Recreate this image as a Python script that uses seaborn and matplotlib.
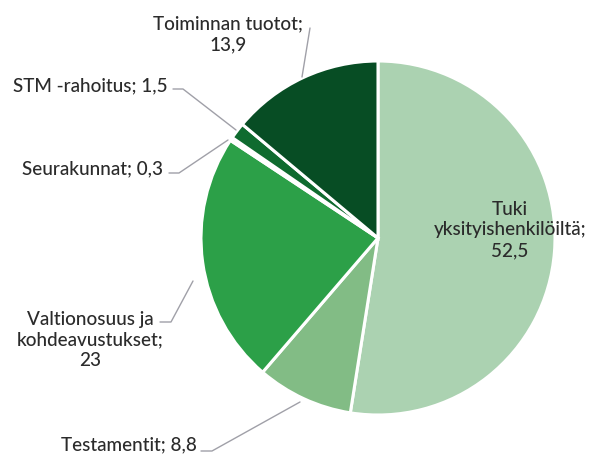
import matplotlib
matplotlib.use("Agg")
import matplotlib.pyplot as plt
import seaborn as sns

categories = ["Tuki yksityishenkilöiltä", "Testamentit", "Valtionosuus ja kohdeavustukset",
              "Seurakunnat", "STM -rahoitus", "Toiminnan tuotot"]
values = [52.5, 8.8, 23, 0.3, 1.5, 13.9]
value_labels = ["52,5", "8,8", "23", "0,3", "1,5", "13,9"]
colors = ["#abd2b1", "#82bc85", "#2ca048", "#e6f2e6", "#0f6b2f", "#074d24"]

sns.set_theme(style="white")
plt.rcParams['font.family'] = ['Lato', 'DejaVu Sans']

W, H = 589, 454
fig = plt.figure(figsize=(W / 100, H / 100), dpi=100)
ax = fig.add_axes([0, 0, 1, 1])

cx, cy, r = 378, H - 238, 177
ax.pie(values, colors=colors, startangle=90, counterclock=False,
       center=(cx, cy), radius=r,
       wedgeprops=dict(edgecolor="white", linewidth=2.2))
ax.set_xlim(0, W)
ax.set_ylim(0, H)
ax.set_aspect("equal")
ax.axis("off")

tc = "#2b2b2b"
fs = 13.6
fw = "medium"
lc = "#a0a0a8"
ls = 1.28

def y(v):
    return H - v

# Tuki inside
ax.text(510, y(230), f"Tuki\nyksityishenkilöiltä;\n{value_labels[0]}", ha="center", va="center",
        fontsize=fs, color=tc, linespacing=ls, fontweight=fw)
# Toiminnan tuotot
ax.text(228, y(34), f"{categories[5]};\n{value_labels[5]}", ha="center", va="center",
        fontsize=fs, color=tc, linespacing=ls, fontweight=fw)
ax.plot([310, 302], [y(28), y(77)], color=lc, lw=1)
# STM
ax.text(168, y(86), f"{categories[4]}; {value_labels[4]}", ha="right", va="center",
        fontsize=fs, color=tc, fontweight=fw)
ax.plot([173, 183, 236], [y(89), y(89), y(130)], color=lc, lw=1)
# Seurakunnat
ax.text(163, y(169), f"{categories[3]}; {value_labels[3]}", ha="right", va="center",
        fontsize=fs, color=tc, fontweight=fw)
ax.plot([169, 179, 228], [y(173), y(173), y(140)], color=lc, lw=1)
# Valtionosuus
ax.text(90, y(340), "Valtionosuus ja\nkohdeavustukset;\n" + value_labels[2], ha="center", va="center",
        fontsize=fs, color=tc, linespacing=ls, fontweight=fw)
ax.plot([160, 171, 193], [y(322), y(322), y(281)], color=lc, lw=1)
# Testamentit
ax.text(197, y(445), f"{categories[1]}; {value_labels[1]}", ha="right", va="center",
        fontsize=fs, color=tc, fontweight=fw)
ax.plot([201, 212, 300], [y(451), y(451), y(402)], color=lc, lw=1)

fig.savefig("out.png", dpi=100, facecolor="white")
